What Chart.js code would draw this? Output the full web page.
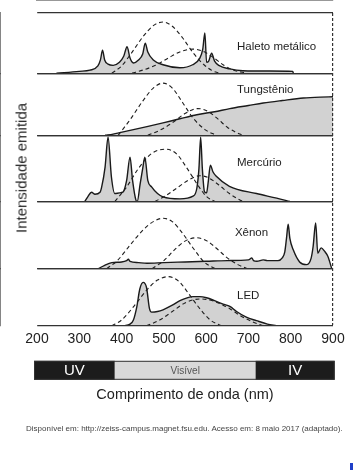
<!DOCTYPE html>
<html>
<head>
<meta charset="utf-8">
<script src="https://cdn.jsdelivr.net/npm/chart.js@4"></script>
<style>
  html, body { margin: 0; padding: 0; background: #fff; }
  #wrap { position: relative; width: 353px; height: 470px; overflow: hidden; font-family: "Liberation Sans", Arial, sans-serif; }
  canvas { position: absolute; left: 0; top: 0; }
  #ytitle { position: absolute; left: 21px; top: 168px; transform: translate(-50%, -50%) rotate(-90deg); white-space: nowrap; font-size: 15px; color: #2a2a2a; }
  #note { position: absolute; left: 26px; top: 424px; white-space: nowrap; font-size: 8px; color: #444; }
  #blue { position: absolute; left: 350px; top: 463px; width: 3px; height: 7px; background: #1f3fc8; }
</style>
</head>
<body>
<div id="wrap">
  <canvas id="c" width="353" height="470"></canvas>
  <div id="ytitle">Intensidade emitida</div>
  <div id="note">Disponível em: http://zeiss-campus.magnet.fsu.edu. Acesso em: 8 maio 2017 (adaptado).</div>
  <div id="blue"></div>
</div>
<script>
// ---------- DATA ----------
const xTicks = [200, 300, 400, 500, 600, 700, 800, 900];
const panelNames = ['Haleto metálico', 'Tungstênio', 'Mercúrio', 'Xênon', 'LED'];

// Lamp emission spectra (wavelength nm, relative intensity 0..1)
const haletoWl = [246, 300, 325, 344, 350, 355, 360, 368, 380, 395, 405, 413, 420, 428, 440, 450, 456, 462, 475, 498, 538, 568, 585, 592, 597, 601, 606, 613, 620, 630, 656, 687, 750, 805, 806];
const haletoI  = [0, 0.03, 0.05, 0.12, 0.22, 0.38, 0.22, 0.15, 0.13, 0.18, 0.28, 0.44, 0.25, 0.17, 0.22, 0.32, 0.5, 0.35, 0.22, 0.14, 0.09, 0.14, 0.25, 0.4, 0.67, 0.18, 0.2, 0.33, 0.2, 0.13, 0.07, 0.04, 0.035, 0.03, 0];

const tungWl = [361, 380, 420, 460, 498, 540, 578, 620, 656, 700, 735, 780, 830, 870, 900];
const tungI  = [0, 0.02, 0.08, 0.14, 0.2, 0.27, 0.33, 0.38, 0.43, 0.48, 0.52, 0.56, 0.6, 0.615, 0.62];

const mercWl = [313, 320, 329, 337, 349, 353, 361, 368, 376, 384, 395, 403, 412, 420, 426, 434, 437, 444, 450, 455, 462, 471, 485, 498, 538, 569, 578, 583, 587, 591, 596, 601, 605, 610, 616, 624, 655, 719, 767, 798];
const mercI  = [0, 0.07, 0.14, 0.11, 0.14, 0.22, 0.52, 0.97, 0.37, 0.12, 0.13, 0.14, 0.32, 0.67, 0.32, 0.02, 0, 0.27, 0.5, 0.67, 0.32, 0.22, 0.12, 0.07, 0.04, 0.08, 0.2, 0.5, 0.97, 0.5, 0.15, 0.13, 0.3, 0.55, 0.45, 0.38, 0.23, 0.12, 0.05, 0];

const xenWl = [345, 360, 377, 400, 412, 416, 420, 440, 460, 500, 550, 600, 650, 700, 708, 712, 720, 735, 745, 770, 780, 786, 790, 794, 798, 806, 821, 837, 848, 853, 859, 864, 872, 880, 888, 897];
const xenI  = [0, 0.05, 0.09, 0.1, 0.12, 0.14, 0.11, 0.09, 0.08, 0.09, 0.1, 0.11, 0.12, 0.13, 0.16, 0.12, 0.11, 0.13, 0.12, 0.12, 0.16, 0.25, 0.45, 0.66, 0.45, 0.28, 0.1, 0.06, 0.15, 0.33, 0.68, 0.23, 0.31, 0.26, 0.18, 0];

const ledWl = [405, 420, 428, 436, 443, 451, 459, 466, 471, 485, 498, 520, 538, 555, 569, 585, 601, 620, 640, 656, 672, 695, 719, 745, 766];
const ledI  = [0, 0.03, 0.1, 0.33, 0.64, 0.76, 0.67, 0.3, 0.24, 0.25, 0.28, 0.36, 0.44, 0.49, 0.51, 0.51, 0.49, 0.44, 0.38, 0.34, 0.25, 0.15, 0.09, 0.03, 0];

// Eye sensitivity curves (dashed), per panel
const scotHaletoWl = [377, 400, 425, 450, 475, 498, 520, 545, 570, 595, 615, 632];
const scotHaletoI  = [0, 0.12, 0.35, 0.6, 0.79, 0.85, 0.78, 0.58, 0.33, 0.14, 0.04, 0];
const photHaletoWl = [425, 450, 480, 510, 540, 569, 590, 615, 640, 665, 696];
const photHaletoI  = [0, 0.05, 0.13, 0.25, 0.36, 0.4, 0.37, 0.27, 0.14, 0.05, 0];

const scotTungWl = [392, 420, 450, 475, 498, 520, 545, 570, 600, 625];
const scotTungI  = [0, 0.25, 0.55, 0.76, 0.84, 0.76, 0.52, 0.27, 0.08, 0];
const photTungWl = [462, 490, 520, 550, 580, 600, 625, 650, 670, 687];
const photTungI  = [0, 0.08, 0.2, 0.35, 0.43, 0.4, 0.28, 0.13, 0.05, 0];

const scotMercWl = [384, 410, 440, 470, 505, 530, 555, 580, 600, 621];
const scotMercI  = [0, 0.2, 0.5, 0.72, 0.79, 0.72, 0.5, 0.25, 0.08, 0];
const photMercWl = [479, 505, 530, 560, 585, 605, 630, 655, 672, 687];
const photMercI  = [0, 0.09, 0.2, 0.33, 0.39, 0.36, 0.25, 0.12, 0.05, 0];

const scotXenWl = [365, 390, 420, 450, 475, 498, 520, 545, 570, 595, 621];
const scotXenI  = [0, 0.12, 0.35, 0.57, 0.7, 0.75, 0.7, 0.52, 0.3, 0.1, 0];
const photXenWl = [472, 500, 525, 550, 577, 600, 625, 650, 675, 697];
const photXenI  = [0, 0.12, 0.28, 0.41, 0.46, 0.42, 0.3, 0.16, 0.06, 0];

const scotLedWl = [377, 400, 430, 460, 485, 510, 535, 560, 585, 610, 637];
const scotLedI  = [0, 0.1, 0.35, 0.63, 0.8, 0.86, 0.78, 0.55, 0.3, 0.1, 0];
const photLedWl = [459, 490, 520, 550, 585, 615, 640, 656, 680, 710, 735];
const photLedI  = [0, 0.1, 0.25, 0.4, 0.47, 0.44, 0.36, 0.3, 0.18, 0.07, 0];

// Spectral band bar below axis
const bandNames = ['UV', 'Visível', 'IV'];
const bandStart = [193, 384, 717];
const bandEnd   = [384, 717, 904];

// Label anchors (nm, relative intensity) for each panel
const labelX = [673, 673, 673, 668, 673];
const labelY = [0.43, 0.73, 0.59, 0.54, 0.53];

// ---------- STYLE ----------
const FONT = '"Liberation Sans", Arial, sans-serif';
const panelHeights = [60, 62, 66, 67, 57];
const bandColors = ['#1c1c1c', '#d9d9d9', '#1c1c1c'];
const bandTextColors = ['#ffffff', '#555555', '#ffffff'];
const bandFonts = ['15px ' + FONT, '10px ' + FONT, '15px ' + FONT];

const spectra = [[haletoWl, haletoI], [tungWl, tungI], [mercWl, mercI], [xenWl, xenI], [ledWl, ledI]];
const scot = [[scotHaletoWl, scotHaletoI], [scotTungWl, scotTungI], [scotMercWl, scotMercI], [scotXenWl, scotXenI], [scotLedWl, scotLedI]];
const phot = [[photHaletoWl, photHaletoI], [photTungWl, photTungI], [photMercWl, photMercI], [photXenWl, photXenI], [photLedWl, photLedI]];

const pts = (wl, v) => wl.map((x, i) => ({x: x, y: v[i]}));

const datasets = [];
const scales = {
  x: {
    type: 'linear', min: 200, max: 900, position: 'bottom',
    afterBuildTicks: (axis) => { axis.ticks = xTicks.map(v => ({value: v})); },
    ticks: { font: { size: 14, family: FONT }, color: '#222', padding: 5 },
    grid: {
      drawTicks: false, z: 1, lineWidth: 1.2,
      color: (c) => (c.tick && c.tick.value === 900) ? '#333' : 'rgba(0,0,0,0)'
    },
    border: { display: true, color: '#333', width: 1.2, dash: [3, 2] },
    title: { display: true, text: 'Comprimento de onda (nm)', font: { size: 14.5, family: FONT }, color: '#222', padding: { top: 34, bottom: 0 } }
  }
};

// stacked axes are laid out bottom-up in config order, so configure the last panel first
for (let i = 4; i >= 0; i--) {
  scales['y' + i] = {
    type: 'linear', min: 0, max: 1, position: 'left', stack: 'panels', stackWeight: panelHeights[i],
    ticks: { display: false, stepSize: 1 },
    grid: { drawTicks: false, color: '#333', lineWidth: 1.2, z: 1 },
    border: { display: true, color: '#333', width: 1.2 }
  };
}

for (let i = 0; i < 5; i++) {
  const id = 'y' + i;
  datasets.push({
    data: pts(scot[i][0], scot[i][1]), yAxisID: id, xAxisID: 'x',
    borderColor: '#1e1e1e', borderWidth: 1.1, borderDash: [4, 3], fill: false,
    pointRadius: 0, cubicInterpolationMode: 'monotone', order: 1
  });
  datasets.push({
    data: pts(phot[i][0], phot[i][1]), yAxisID: id, xAxisID: 'x',
    borderColor: '#1e1e1e', borderWidth: 1.1, borderDash: [4, 3], fill: false,
    pointRadius: 0, cubicInterpolationMode: 'monotone', order: 1
  });
  datasets.push({
    data: pts(spectra[i][0], spectra[i][1]), yAxisID: id, xAxisID: 'x',
    borderColor: '#1a1a1a', borderWidth: 1.4, backgroundColor: '#d2d2d2', fill: 'origin',
    pointRadius: 0, cubicInterpolationMode: 'monotone', order: 2
  });
}

const decor = {
  id: 'decor',
  afterDraw(chart) {
    const { ctx, chartArea } = chart;
    const xs = chart.scales.x;
    ctx.save();
    const top = chartArea.bottom + 35, h = 19;
    bandNames.forEach((name, i) => {
      const x1 = xs.getPixelForValue(bandStart[i]);
      const x2 = xs.getPixelForValue(bandEnd[i]);
      ctx.fillStyle = bandColors[i];
      ctx.fillRect(x1, top, x2 - x1, h);
      ctx.fillStyle = bandTextColors[i];
      ctx.font = bandFonts[i];
      ctx.textAlign = 'center';
      ctx.textBaseline = 'middle';
      ctx.fillText(name, (x1 + x2) / 2, top + h / 2 + 1);
    });
    ctx.strokeStyle = '#333';
    ctx.lineWidth = 1;
    const bx1 = xs.getPixelForValue(bandStart[0]), bx2 = xs.getPixelForValue(bandEnd[2]);
    ctx.strokeRect(bx1 + 0.5, top + 0.5, bx2 - bx1 - 1, h - 1);
    ctx.fillStyle = '#1e1e1e';
    ctx.font = '11.5px ' + FONT;
    ctx.textAlign = 'left';
    ctx.textBaseline = 'middle';
    panelNames.forEach((name, i) => {
      const ys = chart.scales['y' + i];
      ctx.fillText(name, xs.getPixelForValue(labelX[i]), ys.getPixelForValue(labelY[i]));
    });
    ctx.restore();
  }
};

Chart.defaults.font.family = FONT;
new Chart(document.getElementById('c'), {
  type: 'line',
  data: { datasets: datasets },
  options: {
    responsive: false, animation: false, devicePixelRatio: 1,
    parsing: false, normalized: true,
    layout: { padding: { left: 37, right: 20, top: 13, bottom: 66 } },
    plugins: { legend: { display: false }, tooltip: { enabled: false }, title: { display: false } },
    scales: scales
  },
  plugins: [decor]
});
</script>
</body>
</html>
